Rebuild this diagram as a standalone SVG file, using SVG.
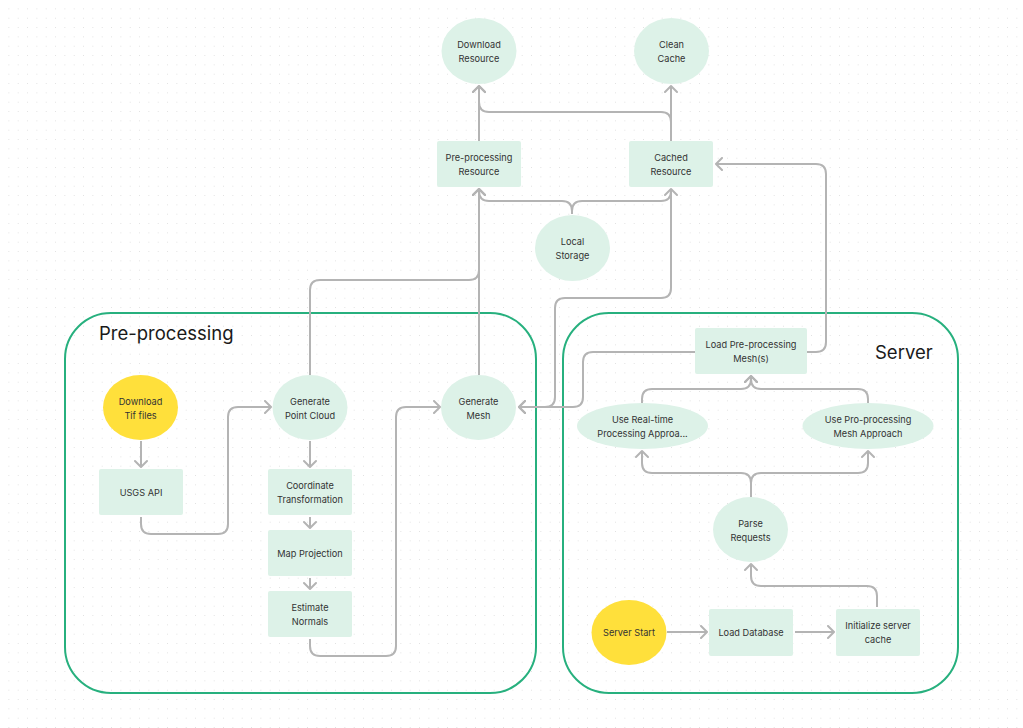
<svg xmlns="http://www.w3.org/2000/svg" width="1023" height="728" viewBox="0 0 1023 728">
<defs>
<pattern id="dots" x="0" y="0" width="9.333" height="9.333" patternUnits="userSpaceOnUse">
<rect x="8.6" y="8.6" width="1.4" height="1.4" fill="#cfcfcf"/>
</pattern>
<marker id="arr" viewBox="-8 -7 10 14" markerWidth="10" markerHeight="14" refX="0" refY="0" orient="auto" markerUnits="userSpaceOnUse">
<path d="M-6,-6 L0,0 L-6,6" fill="none" stroke="#b4b4b4" stroke-width="2" stroke-linejoin="round" stroke-linecap="round"/>
</marker>
<style>
.c{fill:none;stroke:#b4b4b4;stroke-width:2;marker-end:url(#arr)}
.n{fill:#ddf2e8}
.y{fill:#ffe03b}
.t{font-family:Inter,"Liberation Sans",sans-serif;font-size:9.2px;fill:#333;text-anchor:middle}
.g{fill:none;stroke:#27b07e;stroke-width:2}
.h{font-family:Inter,"Liberation Sans",sans-serif;font-size:18.5px;fill:#1a1a1a}
</style>
</defs>
<rect width="1023" height="728" fill="#ffffff"/>
<rect width="1023" height="728" fill="url(#dots)"/>

<g id="group-preprocessing">
<rect class="g" x="65" y="313" width="471" height="380" rx="46"/>
<text class="h" x="99" y="340">Pre-processing</text>
</g>
<g id="group-server">
<rect class="g" x="563" y="313" width="395" height="380" rx="46"/>
<text class="h" x="875" y="359">Server</text>
</g>

<g id="connectors">
<path class="c" d="M479,141 V86"/>
<path class="c" d="M671,141 V122 Q671,112 661,112 H489 Q479,112 479,102 V86"/>
<path class="c" d="M671,141 V86"/>
<path class="c" d="M572,214 V211 Q572,201 562,201 H489 Q479,201 479,191 V189"/>
<path class="c" d="M572,214 V211 Q572,201 582,201 H661 Q671,201 671,191 V189"/>
<path class="c" d="M310,375 V290 Q310,280 320,280 H469 Q479,280 479,270 V189"/>
<path class="c" d="M479,375 V189"/>
<path class="c" d="M671,189 V288 Q671,298 661,298 H565 Q555,298 555,308 V397 Q555,407 545,407 H519"/>
<path class="c" d="M695,352 H593 Q583,352 583,362 V397 Q583,407 573,407 H519"/>
<path class="c" d="M807,352 H816 Q826,352 826,342 V174 Q826,164 816,164 H716"/>
<path class="c" d="M141,441 V467"/>
<path class="c" d="M141,517 V524 Q141,534 151,534 H218 Q228,534 228,524 V417 Q228,407 238,407 H271"/>
<path class="c" d="M310,441 V467"/>
<path class="c" d="M310,517 V528"/>
<path class="c" d="M310,578 V589"/>
<path class="c" d="M310,639 V646 Q310,656 320,656 H386 Q396,656 396,646 V417 Q396,407 406,407 H440"/>
<path class="c" d="M667,632 H707"/>
<path class="c" d="M795,632 H834"/>
<path class="c" d="M877,607 V596 Q877,586 867,586 H761 Q751,586 751,576 V564"/>
<path class="c" d="M751,497 V483 Q751,473 741,473 H652 Q642,473 642,463 V451"/>
<path class="c" d="M751,497 V483 Q751,473 761,473 H858 Q868,473 868,463 V451"/>
<path class="c" d="M642,403 V399 Q642,389 652,389 H741 Q751,389 751,379 V376"/>
<path class="c" d="M868,403 V399 Q868,389 858,389 H761 Q751,389 751,379 V376"/>
</g>

<g id="download-resource">
<ellipse class="n" cx="479" cy="51" rx="37.5" ry="33"/>
<text class="t" x="479" y="48">Download</text><text class="t" x="479" y="62">Resource</text>
</g>
<g id="clean-cache">
<ellipse class="n" cx="671.5" cy="51" rx="37.5" ry="33"/>
<text class="t" x="671.5" y="48">Clean</text><text class="t" x="671.5" y="62">Cache</text>
</g>
<g id="preprocessing-resource">
<rect class="n" x="437" y="141" width="84" height="46" rx="2"/>
<text class="t" x="479" y="161">Pre-processing</text><text class="t" x="479" y="175">Resource</text>
</g>
<g id="cached-resource">
<rect class="n" x="629" y="141" width="84" height="46" rx="2"/>
<text class="t" x="671" y="161">Cached</text><text class="t" x="671" y="175">Resource</text>
</g>
<g id="local-storage">
<ellipse class="n" cx="572.5" cy="248" rx="37.5" ry="33"/>
<text class="t" x="572.5" y="245">Local</text><text class="t" x="572.5" y="259">Storage</text>
</g>
<g id="download-tif">
<ellipse class="y" cx="140.5" cy="407.5" rx="37.5" ry="32.5"/>
<text class="t" x="140.5" y="405">Download</text><text class="t" x="140.5" y="419">Tif files</text>
</g>
<g id="usgs-api">
<rect class="n" x="99" y="469" width="84" height="46" rx="2"/>
<text class="t" x="141" y="495.5">USGS API</text>
</g>
<g id="generate-point-cloud">
<ellipse class="n" cx="310" cy="407.5" rx="37.5" ry="32.5"/>
<text class="t" x="310" y="405">Generate</text><text class="t" x="310" y="419">Point Cloud</text>
</g>
<g id="coordinate-transformation">
<rect class="n" x="268" y="469" width="84" height="46" rx="2"/>
<text class="t" x="310" y="489">Coordinate</text><text class="t" x="310" y="503">Transformation</text>
</g>
<g id="map-projection">
<rect class="n" x="268" y="530" width="84" height="46" rx="2"/>
<text class="t" x="310" y="556.5">Map Projection</text>
</g>
<g id="estimate-normals">
<rect class="n" x="268" y="591" width="84" height="46" rx="2"/>
<text class="t" x="310" y="611">Estimate</text><text class="t" x="310" y="625">Normals</text>
</g>
<g id="generate-mesh">
<ellipse class="n" cx="478.5" cy="407.5" rx="37.5" ry="32.5"/>
<text class="t" x="478.5" y="405">Generate</text><text class="t" x="478.5" y="419">Mesh</text>
</g>
<g id="load-preprocessing-mesh">
<rect class="n" x="695" y="328" width="112" height="46" rx="2"/>
<text class="t" x="751" y="348">Load Pre-processing</text><text class="t" x="751" y="362">Mesh(s)</text>
</g>
<g id="use-realtime">
<ellipse class="n" cx="642.5" cy="426" rx="65.5" ry="23"/>
<text class="t" x="642.5" y="423">Use Real-time</text><text class="t" x="642.5" y="437">Processing Approa...</text>
</g>
<g id="use-preprocessing-mesh">
<ellipse class="n" cx="868" cy="426" rx="65.5" ry="23"/>
<text class="t" x="868" y="423">Use Pro-processing</text><text class="t" x="868" y="437">Mesh Approach</text>
</g>
<g id="parse-requests">
<ellipse class="n" cx="750.5" cy="529.5" rx="37.5" ry="32.5"/>
<text class="t" x="750.5" y="527">Parse</text><text class="t" x="750.5" y="541">Requests</text>
</g>
<g id="server-start">
<ellipse class="y" cx="629" cy="632.5" rx="37.5" ry="32.5"/>
<text class="t" x="629" y="636">Server Start</text>
</g>
<g id="load-database">
<rect class="n" x="709" y="609" width="84" height="47" rx="2"/>
<text class="t" x="751" y="636">Load Database</text>
</g>
<g id="initialize-server-cache">
<rect class="n" x="836" y="609" width="84" height="47" rx="2"/>
<text class="t" x="878" y="629">Initialize server</text><text class="t" x="878" y="643">cache</text>
</g>
</svg>
